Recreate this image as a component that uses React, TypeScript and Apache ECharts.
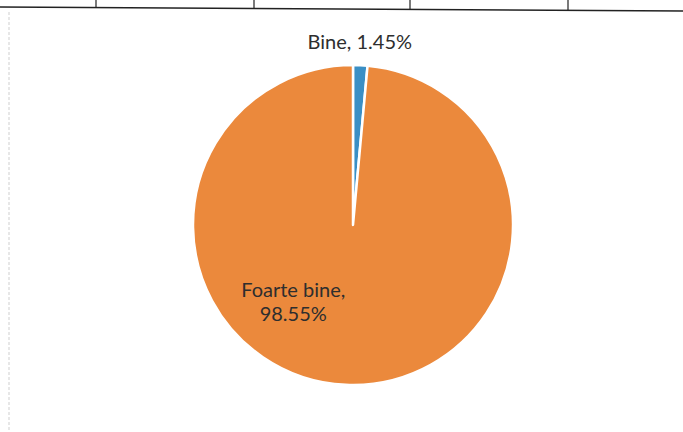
import React, { useEffect, useRef } from "react";
import * as echarts from "echarts";

const categories = ["Bine", "Foarte bine"];
const values = [1.45, 98.55];
const colors = ["#3a8fc5", "#eb893c"];

export default function App() {
  const ref = useRef<HTMLDivElement>(null);
  useEffect(() => {
    document.body.style.margin = "0";
    const chart = echarts.init(ref.current!, null, { renderer: "svg" });
    chart.setOption({
      animation: false,
      backgroundColor: "#ffffff",
      graphic: [
        { type: "line", shape: { x1: 0, y1: 7, x2: 683, y2: 11 }, style: { stroke: "#222", lineWidth: 1.5 } },
        { type: "line", shape: { x1: 96, y1: 0, x2: 96, y2: 8 }, style: { stroke: "#222", lineWidth: 1.2 } },
        { type: "line", shape: { x1: 254, y1: 0, x2: 254, y2: 8.5 }, style: { stroke: "#222", lineWidth: 1.2 } },
        { type: "line", shape: { x1: 410, y1: 0, x2: 410, y2: 9.5 }, style: { stroke: "#222", lineWidth: 1.2 } },
        { type: "line", shape: { x1: 568, y1: 0, x2: 568, y2: 10 }, style: { stroke: "#222", lineWidth: 1.2 } },
        { type: "line", shape: { x1: 9, y1: 12, x2: 9, y2: 432 }, style: { stroke: "#cfcfcf", lineWidth: 1, lineDash: [3, 2] } },
      ],
      series: [
        {
          type: "pie",
          center: [353, 225],
          radius: [0, 160],
          startAngle: 90,
          clockwise: true,
          avoidLabelOverlap: false,
          itemStyle: { borderColor: "#ffffff", borderWidth: 2.5 },
          labelLine: { show: false },
          label: {
            show: true,
            position: "inside",
            fontFamily: "Lato",
            fontSize: 20,
            color: "#2e2e2e",
            lineHeight: 24,
          },
          data: categories.map((name, i) => ({
            name,
            value: values[i],
            itemStyle: { color: colors[i] },
            label:
              i === 0
                ? { formatter: "{b}, {d}%", offset: [3, -101] }
                : { formatter: "{b},\n{d}%", offset: [-56, -7] },
          })),
        },
      ],
    });
    return () => chart.dispose();
  }, []);
  return <div ref={ref} style={{ position: "absolute", left: 0, top: 0, width: 683, height: 432 }} />;
}
